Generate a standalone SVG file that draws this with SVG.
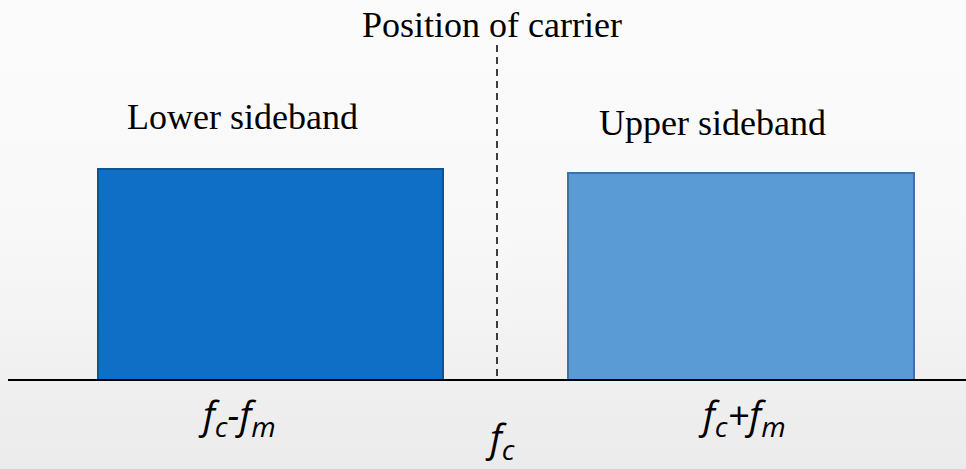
<svg xmlns="http://www.w3.org/2000/svg" width="966" height="469" viewBox="0 0 966 469">
<defs>
<linearGradient id="bg" x1="0" y1="0" x2="0" y2="1">
<stop offset="0" stop-color="#fbfbfb"/>
<stop offset="0.5" stop-color="#f8f8f8"/>
<stop offset="1" stop-color="#ebebeb"/>
</linearGradient>
<style>
.serif{font-family:"Liberation Serif",Tinos,"Times New Roman",Times,"Noto Serif","DejaVu Serif",FreeSerif,serif;font-size:36px;fill:#000}
.math{font-family:"Open Sans","Noto Sans",sans-serif;font-style:italic;font-size:38px;fill:#000}
.sub{font-size:28px}
</style>
</defs>
<rect width="966" height="469" fill="url(#bg)"/>
<g id="lower-sideband">
<rect x="98" y="169" width="345" height="211" fill="#0F6FC6" stroke="#0B5495" stroke-width="2"/>
<text class="serif" x="127" y="129">Lower sideband</text>
</g>
<g id="upper-sideband">
<rect x="568" y="173" width="346" height="207" fill="#5B9BD5" stroke="#41719C" stroke-width="2"/>
<text class="serif" x="599" y="135">Upper sideband</text>
</g>
<g id="carrier">
<text class="serif" x="362" y="37">Position of carrier</text>
</g>
<g id="connectors">
<line x1="497" y1="45" x2="497" y2="378" stroke="#000" stroke-width="1.5" stroke-dasharray="7,5"/>
<line x1="8" y1="380" x2="966" y2="380" stroke="#000" stroke-width="2"/>
</g>
<g id="labels">
<text class="math" x="203" y="429">f<tspan class="sub" dy="8">c</tspan><tspan dy="-8">-f</tspan><tspan class="sub" dy="8">m</tspan></text>
<text class="math" x="490" y="452">f<tspan class="sub" dy="8">c</tspan></text>
<text class="math" x="703" y="429">f<tspan class="sub" dy="8">c</tspan><tspan dy="-8">+f</tspan><tspan class="sub" dy="8">m</tspan></text>
</g>
</svg>
